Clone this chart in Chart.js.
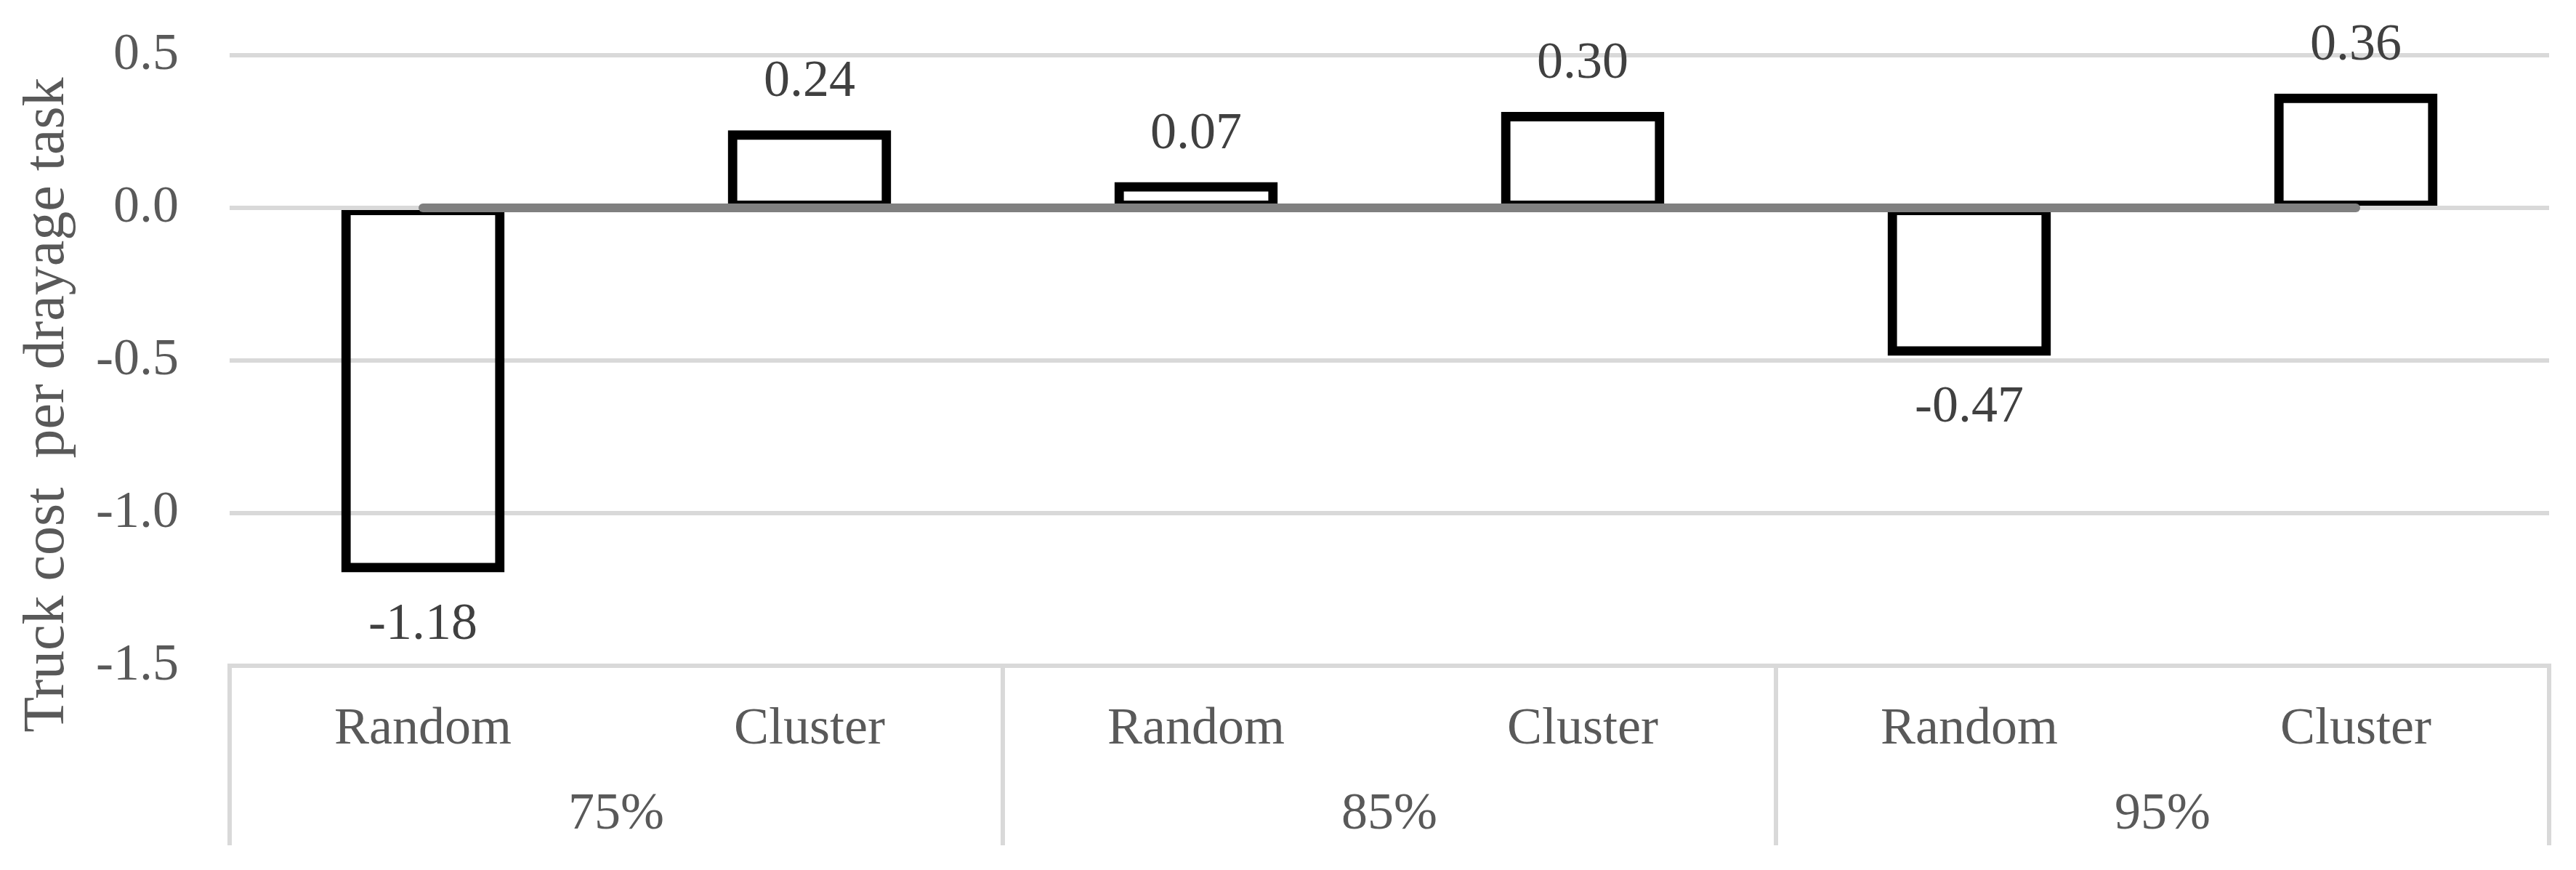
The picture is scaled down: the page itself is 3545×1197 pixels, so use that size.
<!DOCTYPE html>
<html>
<head>
<meta charset="utf-8">
<script src="https://cdn.jsdelivr.net/npm/chart.js@4.4.1/dist/chart.umd.min.js"></script>
<style>
    html, body { margin: 0; padding: 0; background: #fff; }
</style>
</head>
<body>
<canvas id="costChart" width="3545" height="1197"></canvas>
<script>
// data
var categories = ['Random', 'Cluster', 'Random', 'Cluster', 'Random', 'Cluster'];
var groups = ['75%', '85%', '95%'];
var costValues = [-1.18, 0.24, 0.07, 0.30, -0.47, 0.36];
var zeroLine = [0, 0, 0, 0, 0, 0];
var yTicks = [0.5, 0.0, -0.5, -1.0, -1.5];
var yTitle = 'Truck cost  per drayage task';

var serif = '"Liberation Serif", "Times New Roman", serif';

// draws value labels, the two-level category boxes and the axis title
var extras = {
    id: 'extras',
    afterDatasetDraw: function(chart, args) {
        if (args.index !== 0) return;
        // the light zero gridline sits over the bar edges in the original
        var ctx = chart.ctx, area = chart.chartArea;
        var y0 = chart.scales.y.getPixelForValue(0);
        ctx.save();
        ctx.strokeStyle = '#d9d9d9';
        ctx.lineWidth = 6;
        ctx.beginPath();
        ctx.moveTo(area.left, y0);
        ctx.lineTo(area.right, y0);
        ctx.stroke();
        ctx.restore();
    },
    afterDraw: function(chart) {
        var ctx = chart.ctx, area = chart.chartArea;
        var x = chart.scales.x;
        var meta = chart.getDatasetMeta(0);

        ctx.save();
        ctx.font = '72px ' + serif;
        ctx.fillStyle = '#404040';
        ctx.textAlign = 'center';
        ctx.textBaseline = 'middle';
        meta.data.forEach(function(bar, i) {
            var v = costValues[i];
            var ly = v >= 0 ? bar.y - 72 : bar.y + 78;
            ctx.fillText(v.toFixed(2), bar.x, ly);
        });

        // group separators
        var half = (x.getPixelForValue(1) - x.getPixelForValue(0)) / 2;
        ctx.strokeStyle = '#d9d9d9';
        ctx.lineWidth = 6;
        for (var g = 0; g <= groups.length; g++) {
            var idx = Math.min(g * 2, categories.length - 1);
            var gx = g * 2 < categories.length ? x.getPixelForValue(idx) - half : x.getPixelForValue(idx) + half;
            ctx.beginPath();
            ctx.moveTo(gx, area.bottom - 3);
            ctx.lineTo(gx, 1163);
            ctx.stroke();
        }

        // group labels
        ctx.fillStyle = '#595959';
        groups.forEach(function(label, g) {
            var cx = (x.getPixelForValue(g * 2) + x.getPixelForValue(g * 2 + 1)) / 2;
            ctx.fillText(label, cx, 1121);
        });

        // y axis title
        ctx.font = '80px ' + serif;
        ctx.textBaseline = 'alphabetic';
        ctx.translate(87, 557);
        ctx.rotate(-Math.PI / 2);
        ctx.fillText(yTitle, 0, 0);
        ctx.restore();
    }
};

var ctx = document.getElementById('costChart').getContext('2d');
var chart = new Chart(ctx, {
    type: 'bar',
    data: {
        labels: categories,
        datasets: [{
            label: 'Truck cost',
            data: costValues,
            backgroundColor: 'rgba(0,0,0,0)',
            borderColor: '#000000',
            // thin border + inflate gives a 13px edge centred on the value, like the original
            borderWidth: 1,
            inflateAmount: 6,
            borderSkipped: false,
            barPercentage: 0.40,
            categoryPercentage: 1.0,
            order: 1
        }, {
            type: 'line',
            label: 'zero',
            data: zeroLine,
            borderColor: '#808080',
            borderWidth: 12,
            borderCapStyle: 'round',
            pointRadius: 0,
            fill: false,
            order: 0
        }]
    },
    options: {
        responsive: false,
        animation: false,
        layout: { padding: { top: 76, right: 37, left: 0, bottom: 0 } },
        plugins: {
            legend: { display: false },
            tooltip: { enabled: false }
        },
        scales: {
            x: {
                offset: true,
                grid: { display: false },
                border: { display: false },
                ticks: {
                    font: { family: serif, size: 72 },
                    color: '#595959',
                    padding: 37,
                    maxRotation: 0,
                    autoSkip: false
                },
                afterFit: function(s) { s.height = 281; }
            },
            y: {
                min: -1.5,
                max: 0.5,
                grid: {
                    color: '#d9d9d9',
                    lineWidth: 6,
                    drawTicks: true,
                    tickLength: 70,
                    tickColor: 'rgba(0,0,0,0)'
                },
                border: { display: false },
                ticks: {
                    font: { family: serif, size: 72 },
                    color: '#595959',
                    padding: 0,
                    callback: function(v) { return Number(v).toFixed(1); }
                },
                afterBuildTicks: function(s) {
                    s.ticks = yTicks.map(function(v) { return { value: v }; });
                },
                afterFit: function(s) { s.width = 316; }
            }
        }
    },
    plugins: [extras]
});
</script>
</body>
</html>
